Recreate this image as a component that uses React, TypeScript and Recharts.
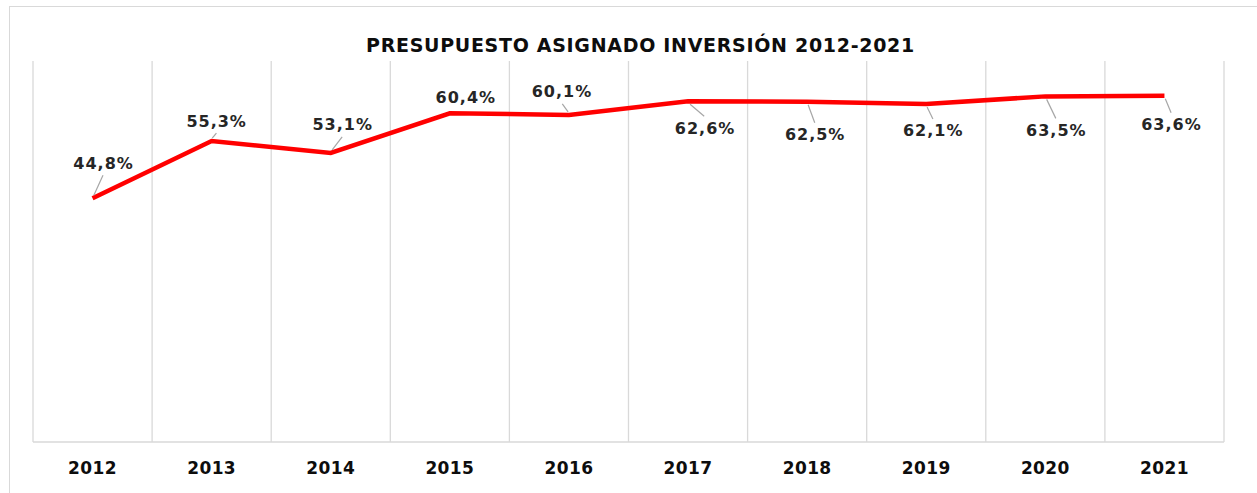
import React from 'react';
import { LineChart, Line, XAxis, YAxis, CartesianGrid, LabelList } from 'recharts';

const years = ['2012', '2013', '2014', '2015', '2016', '2017', '2018', '2019', '2020', '2021'];
const values = [44.8, 55.3, 53.1, 60.4, 60.1, 62.6, 62.5, 62.1, 63.5, 63.6];

// where each data label sits relative to its point (text centre)
const labelDx = [11, 5, 12, 16, -7, 17, 8, 7, 11, 7];
const labelDy = [-35, -20, -28, -16, -23, 27, 33, 27, 34, 29];

const data = years.map((year, i) => ({ year, value: values[i] }));

const W = 1257;
const H = 493;
const FONT = '"DejaVu Sans", Verdana, sans-serif';

const PointLabel = (props: any) => {
  const { x, y, index, value } = props;
  const dx = labelDx[index];
  const dy = labelDy[index];
  const tx = x + dx;
  const ty = y + dy;
  const sign = dy < 0 ? -1 : 1;
  const endY = ty - sign * 12;
  const showLeader = Math.abs(endY - y) > 6;
  return (
    <g>
      {showLeader && (
        <line
          x1={x + dx * 0.12}
          y1={y + sign * 3}
          x2={x + dx * 0.95}
          y2={endY}
          stroke="#a6a6a6"
          strokeWidth={1.2}
        />
      )}
      <text
        x={tx}
        y={ty}
        textAnchor="middle"
        dominantBaseline="central"
        fontFamily={FONT}
        fontWeight="bold"
        fontSize={16}
        letterSpacing={1}
        fill="#262626"
      >
        {String(value).replace('.', ',') + '%'}
      </text>
    </g>
  );
};

const YearTick = (props: any) => {
  const { x, y, payload } = props;
  return (
    <text
      x={x}
      y={y + 18}
      textAnchor="middle"
      dominantBaseline="central"
      fontFamily={FONT}
      fontWeight="bold"
      fontSize={17}
      letterSpacing={0.4}
      fill="#0d0d0d"
    >
      {payload.value}
    </text>
  );
};

export default function App() {
  return (
    <div style={{ position: 'absolute', left: 0, top: 0, width: W, height: H, background: '#fff' }}>
      <div
        style={{
          position: 'absolute',
          left: 9,
          top: 6,
          width: W,
          height: H,
          borderLeft: '1px solid #d9d9d9',
          borderTop: '1px solid #d9d9d9',
        }}
      />
      <div
        style={{
          position: 'absolute',
          left: 12,
          top: 33,
          width: W,
          textAlign: 'center',
          fontFamily: FONT,
          fontWeight: 'bold',
          fontSize: 19,
          letterSpacing: 0.7,
          color: '#0d0d0d',
          lineHeight: '24px',
        }}
      >
        PRESUPUESTO ASIGNADO INVERSIÓN 2012-2021
      </div>
      <div style={{ position: 'absolute', left: 0, top: 0 }}>
        <LineChart
          width={W}
          height={H}
          data={data}
          margin={{ top: 61, right: 33, left: 33, bottom: 0 }}
        >
          <CartesianGrid
            horizontal={false}
            stroke="#d9d9d9"
            strokeWidth={1.3}
            verticalCoordinatesGenerator={({ offset }: any) =>
              Array.from({ length: years.length + 1 }, (_, i) => offset.left + (i * offset.width) / years.length)
            }
          />
          <XAxis
            dataKey="year"
            scale="band"
            axisLine={{ stroke: '#d9d9d9', strokeWidth: 1.3 }}
            tickLine={false}
            tick={<YearTick />}
            interval={0}
            height={51}
          />
          <YAxis hide domain={[0, 70]} />
          <Line
            type="linear"
            dataKey="value"
            stroke="#ff0000"
            strokeWidth={4.5}
            dot={false}
            isAnimationActive={false}
          >
            <LabelList dataKey="value" content={<PointLabel />} />
          </Line>
        </LineChart>
      </div>
    </div>
  );
}
